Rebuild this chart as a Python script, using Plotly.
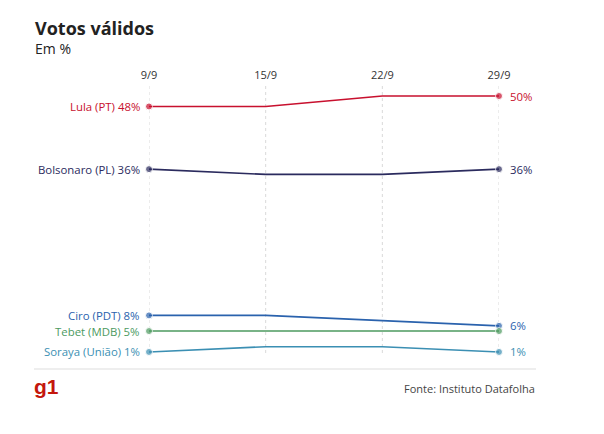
import plotly.graph_objects as go

# Datafolha survey dates and valid-vote shares (%)
dates = ["9/9", "15/9", "22/9", "29/9"]
candidates = ["Lula (PT)", "Bolsonaro (PL)", "Ciro (PDT)", "Tebet (MDB)", "Soraya (União)"]
lula = [48, 48, 50, 50]
bolsonaro = [36, 35, 35, 36]
ciro = [8, 8, 7, 6]
tebet = [5, 5, 5, 5]
soraya = [1, 2, 2, 1]

COLORS = ["#c8102e", "#2b2b5e", "#2a62ad", "#4c9a5f", "#3b8fb3"]
FONT = "Open Sans, Noto Sans, sans-serif"

# the page puts the figure 8px in from the top-left corner
OFF = 8
W, H = 604 - OFF, 434 - OFF
L, R, T, B = 149 - OFF, 105, 84 - OFF, 81
plot_w, plot_h = W - L - R, H - T - B


def px_x(p):
    return (p - OFF - L) / plot_w


def px_y(p):
    return (H - B - (p - OFF)) / plot_h


series = [lula, bolsonaro, ciro, tebet, soraya]
xs = list(range(len(dates)))

fig = go.Figure()
for x in xs:
    fig.add_shape(type="line", xref="x", yref="paper", x0=x, x1=x, y0=0, y1=1,
                  line=dict(color="#d9d9d9", width=1, dash="dot"), layer="below")

for name, vals, color in zip(candidates, series, COLORS):
    fig.add_trace(go.Scatter(
        x=xs, y=vals, mode="lines+markers", name=name,
        line=dict(color=color, width=1.6),
        marker=dict(color=color, size=[7, 0, 0, 7]),
        cliponaxis=False, showlegend=False, hoverinfo="skip",
    ))
    fig.add_annotation(x=xs[0], y=vals[0], text=f"{name} {vals[0]}%",
                       xanchor="right", xshift=-7, showarrow=False,
                       font=dict(size=11.4, color=color, family=FONT))
    # Tebet has no end label in the original
    if name != "Tebet (MDB)":
        fig.add_annotation(x=xs[-1], y=vals[-1], text=f"{vals[-1]}%",
                           xanchor="left", xshift=9, showarrow=False,
                           font=dict(size=11.4, color=color, family=FONT))

fig.add_annotation(x=px_x(33), y=px_y(28), xref="paper", yref="paper",
                   text="<b>Votos válidos</b>", xanchor="left", yanchor="middle",
                   showarrow=False, font=dict(size=18, color="#222", family=FONT))
fig.add_annotation(x=px_x(33), y=px_y(48), xref="paper", yref="paper",
                   text="Em %", xanchor="left", yanchor="middle",
                   showarrow=False, font=dict(size=14, color="#222", family=FONT))
fig.add_annotation(x=px_x(32), y=px_y(386), xref="paper", yref="paper",
                   text="<b>g1</b>", xanchor="left", yanchor="middle",
                   showarrow=False, font=dict(size=21, color="#c4170c", family="Liberation Sans, Arial, sans-serif"))
fig.add_annotation(x=px_x(537), y=px_y(388), xref="paper", yref="paper",
                   text="Fonte: Instituto Datafolha", xanchor="right", yanchor="middle",
                   showarrow=False, font=dict(size=11, color="#444", family=FONT))
fig.add_shape(type="line", xref="paper", yref="paper",
              x0=px_x(34), x1=px_x(536), y0=px_y(369), y1=px_y(369),
              line=dict(color="#dddddd", width=1))

fig.update_layout(
    width=W, height=H,
    margin=dict(l=L, r=R, t=T, b=B),
    paper_bgcolor="white", plot_bgcolor="white",
    font=dict(family=FONT, size=11, color="#333"),
    xaxis=dict(range=[0, 3], tickvals=xs, ticktext=dates, side="top",
               showgrid=False, zeroline=False, showline=False, ticks="",
               ticklabelstandoff=2,
               fixedrange=True, tickfont=dict(size=11, color="#333")),
    yaxis=dict(range=[0.8, 52.3], showgrid=False, zeroline=False,
               showticklabels=False, showline=False, fixedrange=True),
)

fig.write_html("out.html")
